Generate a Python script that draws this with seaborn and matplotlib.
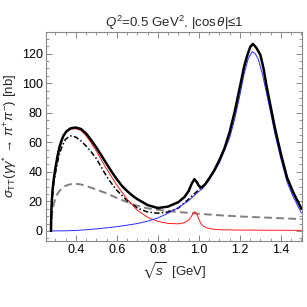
import matplotlib
matplotlib.use("Agg")
import matplotlib.pyplot as plt
from matplotlib.ticker import MultipleLocator, FormatStrFormatter
import pandas as pd
import seaborn as sns

# total cross section (thick black)
total_x = [0.279, 0.2795, 0.2805, 0.282, 0.284, 0.287, 0.292, 0.30, 0.31, 0.32, 0.33, 0.34,
           0.355, 0.375, 0.40, 0.425, 0.45, 0.475, 0.50, 0.525, 0.55, 0.575, 0.60, 0.625,
           0.65, 0.675, 0.70, 0.75, 0.80, 0.85, 0.90, 0.93, 0.95, 0.965, 0.978, 0.99,
           1.0, 1.012, 1.03, 1.05, 1.075, 1.10, 1.125, 1.15, 1.175, 1.20, 1.22, 1.234,
           1.25, 1.263, 1.28, 1.30, 1.315, 1.33, 1.35, 1.37, 1.40, 1.43, 1.46, 1.50]
total_y = [0, 5, 11, 17, 22, 28, 34.5, 42, 50, 56.5, 61, 64.5,
           67.5, 69.5, 70, 69, 66, 61.5, 56.5, 51, 45.5, 40, 35, 30.5,
           27, 24, 21.5, 17.5, 15.5, 16.5, 19.5, 23, 27, 32, 35, 33,
           30.5, 29.3, 31.5, 35.5, 41, 48, 56, 67, 81, 97.5, 111, 118,
           124.5, 126.6, 124, 119, 110, 98, 84, 70, 52, 36, 26, 15]

# f2(1270) part (thin blue)
blue_x = [0.279, 0.35, 0.40, 0.45, 0.50, 0.55, 0.60, 0.65, 0.70, 0.75, 0.80, 0.85, 0.90,
          0.95, 1.0, 1.015, 1.05, 1.10, 1.15, 1.175, 1.20, 1.22, 1.24, 1.26, 1.275, 1.29,
          1.31, 1.33, 1.35, 1.37, 1.40, 1.43, 1.46, 1.50]
blue_y = [0, 0.1, 0.3, 0.8, 1.4, 2.1, 2.9, 3.9, 5, 6.6, 8.8, 12, 15.8,
          20.5, 26.8, 28.3, 34.5, 46, 63, 76, 92, 106, 116.5, 121.4, 120, 116,
          106, 93, 80, 66, 48.5, 33, 23, 12]

# S-wave part (thin red)
red_x = [0.279, 0.2795, 0.2805, 0.282, 0.284, 0.287, 0.292, 0.30, 0.31, 0.32, 0.33, 0.34,
         0.355, 0.375, 0.40, 0.425, 0.45, 0.475, 0.50, 0.525, 0.55, 0.575, 0.60, 0.65,
         0.70, 0.75, 0.80, 0.85, 0.90, 0.93, 0.95, 0.96, 0.97, 0.98, 0.99, 1.0,
         1.01, 1.02, 1.04, 1.07, 1.10, 1.20, 1.30, 1.40, 1.50]
red_y = [0, 5, 11, 17, 22, 28, 34.5, 41.5, 49, 56, 60.5, 64,
         67, 68.8, 69.2, 68, 64.5, 59.5, 54, 48, 42, 36.5, 31, 21.5,
         14, 9.2, 6.5, 5.1, 4.8, 5.6, 7.3, 9, 11.5, 13, 11.5, 8,
         5, 3.3, 2, 1.2, 0.8, 0.6, 0.5, 0.45, 0.4]

# dash-dotted black
dd_x = [0.279, 0.2795, 0.2805, 0.282, 0.284, 0.287, 0.292, 0.30, 0.31, 0.32, 0.335, 0.35,
        0.372, 0.40, 0.425, 0.45, 0.475, 0.50, 0.525, 0.55, 0.575, 0.60, 0.65, 0.70,
        0.75, 0.80, 0.85, 0.90, 0.95, 1.0, 1.02]
dd_y = [0, 4.5, 10, 15.5, 20, 25.5, 31.5, 38.5, 46, 52, 58, 62,
        64.4, 63.5, 61, 57.5, 53.5, 49, 43, 37, 32, 27.5, 20.5, 15.5,
        12.8, 12, 12.8, 15.5, 21.5, 28, 30.5]

# dashed gray
gray_x = [0.279, 0.281, 0.284, 0.288, 0.293, 0.30, 0.31, 0.32, 0.335, 0.35, 0.37, 0.39,
          0.42, 0.45, 0.50, 0.55, 0.60, 0.65, 0.70, 0.75, 0.80, 0.90, 1.0, 1.1, 1.2,
          1.3, 1.4, 1.5]
gray_y = [0, 6, 11, 15, 18.5, 21.5, 25, 27, 29.3, 30.5, 31.5, 32,
          31.6, 30.5, 28, 25.5, 22.3, 19.5, 17, 15.3, 14.3, 12.8, 11.6, 10.6, 9.8,
          9.2, 8.6, 8]

sns.set_style("ticks")
plt.rcParams['font.family'] = ['Liberation Sans', 'DejaVu Sans']
plt.rcParams['mathtext.fontset'] = 'custom'
plt.rcParams['mathtext.rm'] = 'Liberation Sans'
plt.rcParams['mathtext.it'] = 'Liberation Sans:italic'
plt.rcParams['mathtext.fallback'] = 'stixsans'

fig = plt.figure(figsize=(3.07, 3.07), dpi=100)
ax = fig.add_axes([0.150, 0.216, 0.834, 0.680])

series = [
    (gray_x, gray_y, dict(color='#808080', lw=1.4, dashes=(4, 2.2))),
    (dd_x, dd_y, dict(color='black', lw=1.1, dashes=(3.5, 1.5, 1, 1.5))),
    (red_x, red_y, dict(color='#ff1a1a', lw=0.7)),
    (blue_x, blue_y, dict(color='#2a2aff', lw=0.7)),
    (total_x, total_y, dict(color='black', lw=1.8)),
]
for xs, ys, st in series:
    df = pd.DataFrame({'x': xs, 'y': ys})
    sns.lineplot(data=df, x='x', y='y', ax=ax, sort=False, estimator=None, **st)

ax.set_xlim(0.255, 1.503)
ax.set_ylim(-6.6, 134.7)
ax.xaxis.set_major_locator(MultipleLocator(0.2))
ax.xaxis.set_minor_locator(MultipleLocator(0.05))
ax.yaxis.set_major_locator(MultipleLocator(20))
ax.yaxis.set_minor_locator(MultipleLocator(5))
ax.xaxis.set_major_formatter(FormatStrFormatter('%.1f'))
frame_c = '#888888'
for sp in ax.spines.values():
    sp.set_color(frame_c)
    sp.set_linewidth(0.8)
ax.tick_params(which='both', direction='in', top=True, right=True, color=frame_c,
               labelsize=9, labelcolor='black', pad=2.5)
ax.tick_params(which='major', length=4, width=0.7)
ax.tick_params(which='minor', length=2, width=0.6)

ax.set_xlabel(r"$\sqrt{s}$  [GeV]", fontsize=9.5, labelpad=3)
ax.set_ylabel(r"$\sigma_{\rm TT}(\gamma\gamma^{*}$ → $\pi^{+}\pi^{-})$ [nb]",
              fontsize=9.5, labelpad=2)
ax.set_title(r"$Q^2$=0.5 GeV$^2$, |cos$\,\theta$|≤1", fontsize=9.5, pad=2)

fig.savefig("out.png", dpi=100)
